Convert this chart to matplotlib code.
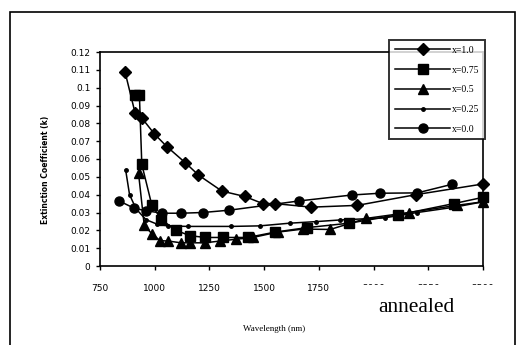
import matplotlib.pyplot as plt
from matplotlib.patches import Rectangle

# wavelength (nm) / extinction coefficient k for each composition
wl_x10 = [864, 910, 941, 999, 1055, 1139, 1200, 1307, 1411, 1494, 1549, 1715, 1926, 2193, 2500]
k_x10 = [0.109, 0.086, 0.083, 0.074, 0.067, 0.058, 0.051, 0.042, 0.039, 0.035, 0.035, 0.033, 0.034, 0.040, 0.046]

wl_x075 = [912, 930, 941, 987, 1031, 1097, 1161, 1231, 1313, 1425, 1550, 1694, 1888, 2110, 2367, 2500]
k_x075 = [0.096, 0.096, 0.057, 0.034, 0.026, 0.020, 0.017, 0.016, 0.016, 0.016, 0.019, 0.0215, 0.024, 0.0286, 0.035, 0.0385]

wl_x05 = [926, 952, 987, 1025, 1062, 1120, 1160, 1230, 1298, 1371, 1448, 1562, 1677, 1802, 1967, 2162, 2379, 2500]
k_x05 = [0.052, 0.023, 0.018, 0.0142, 0.014, 0.013, 0.013, 0.013, 0.014, 0.015, 0.016, 0.019, 0.0207, 0.0205, 0.0267, 0.030, 0.034, 0.036]

wl_x025 = [867, 885, 915, 960, 1010, 1060, 1150, 1350, 1480, 1616, 1738, 1845, 2050, 2200, 2370, 2500]
k_x025 = [0.054, 0.040, 0.032, 0.026, 0.0235, 0.0225, 0.0222, 0.0222, 0.0225, 0.024, 0.0249, 0.0258, 0.027, 0.030, 0.033, 0.036]

wl_x00 = [837, 906, 959, 1035, 1122, 1220, 1341, 1661, 1900, 2028, 2200, 2358]
k_x00 = [0.0365, 0.0324, 0.031, 0.0296, 0.0296, 0.030, 0.0313, 0.0365, 0.0398, 0.0408, 0.041, 0.0458]

labels = ['x=1.0', 'x=0.75', 'x=0.5', 'x=0.25', 'x=0.0']
xticks = [750, 1000, 1250, 1500, 1750, 2000, 2250, 2500]
yticks = [0, 0.01, 0.02, 0.03, 0.04, 0.05, 0.06, 0.07, 0.08, 0.09, 0.1, 0.11, 0.12]
ytick_labels = ['0', '0.01', '0.02', '0.03', '0.04', '0.05', '0.06', '0.07',
                '0.08', '0.09', '0.1', '0.11', '0.12']

W, H = 522, 345
fig = plt.figure(figsize=(W / 100, H / 100), dpi=100)
ax = fig.add_axes([100 / W, (H - 266) / H, 383 / W, 214 / H])

series = [
    (wl_x10, k_x10, 'D', 6.2),
    (wl_x075, k_x075, 's', 6.5),
    (wl_x05, k_x05, '^', 7.0),
    (wl_x025, k_x025, 'o', 2.5),
    (wl_x00, k_x00, 'o', 6.5),
]
for (wl, k, m, ms), lab in zip(series, labels):
    ax.plot(wl, k, color='black', lw=1.1, marker=m, ms=ms,
            mfc='black', mec='black', label=lab, clip_on=False)

ax.set_xlim(750, 2500)
ax.set_ylim(0, 0.12)
ax.set_xticks(xticks)
ax.set_xticklabels([str(t) for t in xticks])
ax.set_yticks(yticks)
ax.set_yticklabels(ytick_labels)
ax.tick_params(direction='out', length=3, width=1, pad=4,
               labelsize=6.5, labelfontfamily='DejaVu Sans')
ax.tick_params(axis='x', pad=10)
for s in ax.spines.values():
    s.set_linewidth(1.2)

ax.set_ylabel('Extinction Coefficient (k)', fontsize=5.5, fontweight='bold',
              family='DejaVu Sans')
ax.yaxis.set_label_coords(-0.13, 0.45)
ax.set_xlabel('Wavelength (nm)', fontsize=6.5, family='Liberation Serif')
ax.xaxis.set_label_coords(0.455, -0.275)

leg = ax.legend(loc='upper right', bbox_to_anchor=(485 / W, 1 - 40 / H),
                bbox_transform=fig.transFigure, frameon=True, fancybox=False,
                prop={'family': 'Liberation Serif', 'size': 7},
                handlelength=5.6, handletextpad=0.2, labelspacing=1.1,
                borderpad=0.6, borderaxespad=0)
leg.get_frame().set_edgecolor('black')
leg.get_frame().set_linewidth(1.4)
leg.set_zorder(10)

# white panel with the sample label, over the lower right corner
fig.add_artist(Rectangle((357 / W, (H - 325) / H), 140 / W, 40 / H,
                         transform=fig.transFigure, facecolor='white',
                         edgecolor='none', zorder=20))
fig.text(416 / W, 1 - 307 / H, 'annealed', ha='center', va='center',
         fontsize=15.5, family='Liberation Serif', zorder=21)

# outer frame of the chart area
fig.add_artist(Rectangle((10 / W, -0.1), 505 / W, 1.1 - 12 / H,
                         transform=fig.transFigure, facecolor='none',
                         edgecolor='black', lw=1.2))

fig.savefig('out.png', dpi=100)
